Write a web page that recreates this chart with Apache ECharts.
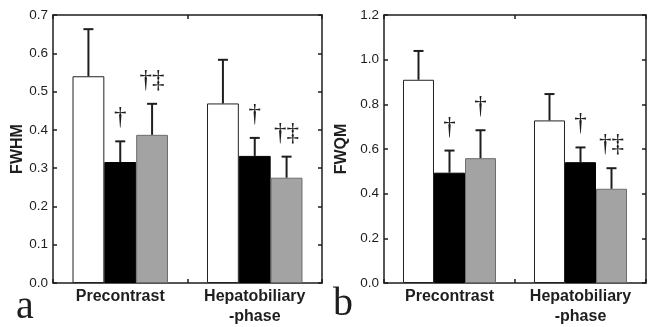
<!DOCTYPE html>
<html>
<head>
<meta charset="utf-8">
<script src="https://cdn.jsdelivr.net/npm/echarts@6/dist/echarts.min.js"></script>
<style>
	html, body { margin: 0; padding: 0; background: #fff; }
	#chart { width: 648px; height: 327px; }
</style>
</head>
<body>
<div id="chart"></div>
<script>
/* Data */
const categories = ['Precontrast', 'Hepatobiliary\n-phase'];

// panel a: FWHM
const fwhmWhite = [0.540, 0.469];
const fwhmBlack = [0.316, 0.332];
const fwhmGray = [0.387, 0.275];
const fwhmWhiteSd = [0.123, 0.114];
const fwhmBlackSd = [0.054, 0.047];
const fwhmGraySd = [0.081, 0.055];
const fwhmBlackMarks = ['\u2020', '\u2020'];
const fwhmGrayMarks = ['\u2020\u2021', '\u2020\u2021'];

// panel b: FWQM
const fwqmWhite = [0.910, 0.728];
const fwqmBlack = [0.494, 0.541];
const fwqmGray = [0.559, 0.422];
const fwqmWhiteSd = [0.129, 0.118];
const fwqmBlackSd = [0.099, 0.066];
const fwqmGraySd = [0.125, 0.092];
const fwqmBlackMarks = ['\u2020', '\u2020'];
const fwqmGrayMarks = ['\u2020', '\u2020\u2021'];

const noMarks = ['', ''];

/* Styles */
const INK = '#1e1e1e';
const CAT_GAP = 0.29;
const SANS = '"Liberation Sans", Arial, sans-serif';
const SERIF = '"Liberation Serif", "DejaVu Serif", serif';

const barStyles = [
	{ color: '#ffffff', borderColor: '#222', borderWidth: 1 },
	{ color: '#000000', borderColor: '#000', borderWidth: 1 },
	{ color: '#a3a3a3', borderColor: '#6e6e6e', borderWidth: 1 },
];

/* Error bar (upper whisker only) + significance marks */
function errorRenderer(slot, marks) {
	return function (params, api) {
		const cat = api.value(0);
		const mean = api.value(1);
		const sd = api.value(2);
		const band = api.size([1, 0])[0];
		const barW = band * (1 - CAT_GAP) / 3;
		const base = api.coord([cat, mean]);
		const top = api.coord([cat, mean + sd]);
		const x = base[0] + (slot - 1) * barW;
		const children = [
			{
				type: 'line',
				shape: { x1: x, y1: base[1], x2: x, y2: top[1] },
				style: { stroke: INK, lineWidth: 2 },
			},
			{
				type: 'line',
				shape: { x1: x - 5, y1: top[1], x2: x + 5, y2: top[1] },
				style: { stroke: INK, lineWidth: 2 },
			},
		];
		const mark = marks[params.dataIndex];
		if (mark) {
			children.push({
				type: 'text',
				style: {
					text: mark,
					x: x,
					y: top[1] - 11,
					align: 'center',
					verticalAlign: 'bottom',
					fontSize: 25,
					fontFamily: SERIF,
					fill: INK,
				},
			});
		}
		return { type: 'group', children: children };
	};
}

function frameAxisLine() {
	return { show: true, onZero: false, lineStyle: { color: INK, width: 1.5 } };
}

function insideTick() {
	return { show: true, inside: true, length: 4, lineStyle: { color: INK, width: 1.5 } };
}

function xAxes(gridIndex) {
	return [
		{
			type: 'category',
			gridIndex: gridIndex,
			data: categories,
			position: 'bottom',
			axisLine: frameAxisLine(),
			axisTick: insideTick(),
			axisLabel: {
				interval: 0,
				hideOverlap: false,
				color: INK,
				fontFamily: SANS,
				fontWeight: 'bold',
				fontSize: 16,
				lineHeight: 20,
				margin: 4,
			},
			splitLine: { show: false },
		},
		{
			type: 'category',
			gridIndex: gridIndex,
			data: categories,
			position: 'top',
			axisLine: frameAxisLine(),
			axisTick: insideTick(),
			axisLabel: { show: false },
			splitLine: { show: false },
		},
	];
}

function yAxes(gridIndex, name, max, interval, nameGap) {
	return [
		{
			type: 'value',
			gridIndex: gridIndex,
			position: 'left',
			min: 0,
			max: max,
			interval: interval,
			name: name,
			nameLocation: 'middle',
			nameGap: nameGap,
			nameTextStyle: {
				color: INK,
				fontFamily: SANS,
				fontWeight: 'bold',
				fontSize: 16,
			},
			axisLine: frameAxisLine(),
			axisTick: insideTick(),
			axisLabel: {
				color: INK,
				fontFamily: SANS,
				fontSize: 13.5,
				margin: 5,
				formatter: (v) => v.toFixed(1),
			},
			splitLine: { show: false },
		},
		{
			type: 'value',
			gridIndex: gridIndex,
			position: 'right',
			min: 0,
			max: max,
			interval: interval,
			axisLine: frameAxisLine(),
			axisTick: insideTick(),
			axisLabel: { show: false },
			splitLine: { show: false },
		},
	];
}

function panelSeries(axisOffset, means, sds, marks) {
	const series = [];
	means.forEach((m, slot) => {
		series.push({
			type: 'bar',
			xAxisIndex: axisOffset,
			yAxisIndex: axisOffset,
			data: m,
			barGap: '0%',
			barCategoryGap: (CAT_GAP * 100) + '%',
			itemStyle: barStyles[slot],
			silent: true,
			animation: false,
		});
	});
	means.forEach((m, slot) => {
		series.push({
			type: 'custom',
			xAxisIndex: axisOffset,
			yAxisIndex: axisOffset,
			renderItem: errorRenderer(slot, marks[slot]),
			encode: { x: 0, y: 1 },
			data: m.map((v, i) => [i, v, sds[slot][i]]),
			z: 5,
			silent: true,
			animation: false,
		});
	});
	return series;
}

const option = {
	backgroundColor: '#fff',
	animation: false,
	grid: [
		{ left: 53, top: 15, width: 269, height: 269 },
		{ left: 384, top: 15, width: 262, height: 269 },
	],
	xAxis: [...xAxes(0), ...xAxes(1)],
	yAxis: [
		...yAxes(0, 'FWHM', 0.7, 0.1, 27),
		...yAxes(1, 'FWQM', 1.2, 0.2, 34),
	],
	series: [
		...panelSeries(0,
			[fwhmWhite, fwhmBlack, fwhmGray],
			[fwhmWhiteSd, fwhmBlackSd, fwhmGraySd],
			[noMarks, fwhmBlackMarks, fwhmGrayMarks]),
		...panelSeries(2,
			[fwqmWhite, fwqmBlack, fwqmGray],
			[fwqmWhiteSd, fwqmBlackSd, fwqmGraySd],
			[noMarks, fwqmBlackMarks, fwqmGrayMarks]),
	],
	graphic: [
		{
			type: 'text',
			left: 16,
			top: 287,
			style: { text: 'a', fontSize: 40, fontFamily: SERIF, fill: INK },
		},
		{
			type: 'text',
			left: 333,
			top: 284,
			style: { text: 'b', fontSize: 40, fontFamily: SERIF, fill: INK },
		},
	],
};

const myChart = echarts.init(document.getElementById('chart'));
myChart.setOption(option);
</script>
</body>
</html>
